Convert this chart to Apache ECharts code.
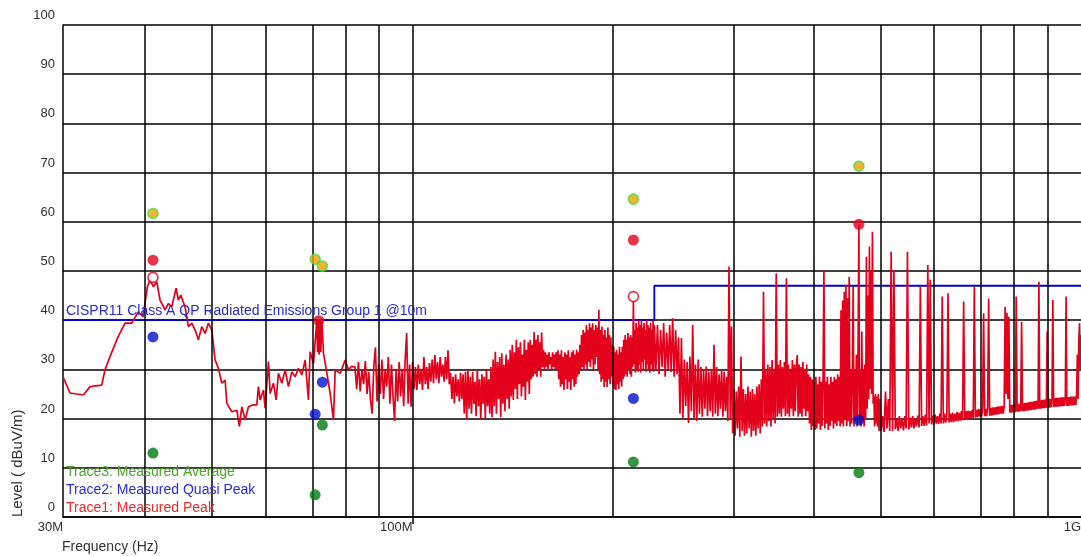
<!DOCTYPE html>
<html>
<head>
<meta charset="utf-8">
<script src="https://cdn.jsdelivr.net/npm/echarts@6/dist/echarts.min.js"></script>
<style>
html,body{margin:0;padding:0;background:#fff;}
#chart{width:1081px;height:556px;}
</style>
</head>
<body>
<div id="chart"></div>
<script>
// ---------- DATA (frequency in MHz, level in dBuV/m) ----------
const xTickMHz = [30, 100, 1000];
const xTickLabels = ['30M', '100M', '1G'];
const gridFreqMHz = [40, 50, 60, 70, 80, 90, 100, 200, 300, 400, 500, 600, 700, 800, 900];

// CISPR11 Class A QP limit (step)
const limitFreqMHz = [30, 230, 230, 1000];
const limitLevel = [40, 40, 47, 47];

// Trace1: measured peak sweep
const traceLow = [
[30.0,28.5],[30.73,25.2],[32.18,24.8],[32.93,26.5],[34.28,26.8],[34.67,29.9],[35.27,32.6],[36.26,36.6],[37.15,39.4],[38.01,39.4],
[38.89,41.7],[39.52,40.7],[40.12,46.8],[40.49,48.2],[40.95,46.8],[41.44,47.8],[41.91,44.1],[42.64,42.1],[43.13,43.4],[43.63,42.7],
[44.29,46.5],[44.64,44.1],[45.01,45.1],[45.68,42.7],[46.21,38.7],[46.75,39.4],[47.29,38.0],[47.83,36.0],[48.39,38.7],[48.94,37.3],
[49.50,39.4],[50.09,38.0],[50.66,31.9],[51.24,30.2],[51.84,27.2],[52.44,27.8],[52.75,23.1],[53.66,21.4],[54.59,21.7],[55.08,18.4],
[55.54,22.4],[56.18,19.7],[56.82,22.4],[57.81,22.8],[58.49,22.8],[58.81,26.5],[59.16,23.8],[59.84,25.8],[60.19,22.1],[60.88,31.6],
[61.23,25.1],[61.93,27.2],[62.51,23.8],[63.01,29.2],[63.75,27.2],[64.48,29.9],[65.22,26.5],[65.99,29.5],[66.74,28.5],[67.51,30.2],
[68.30,28.9],[69.08,31.9],[69.87,23.8],[70.28,33.6],[71.09,31.2],[71.92,40.0],[72.1,33.5],[72.25,40.0],[72.5,33.0],[72.7,40.0],
[72.9,33.5],[73.18,40.0],[73.58,33.3],[74.45,29.2],[75.30,25.1],[76.16,19.7],[76.61,29.9],[77.94,29.2],[79.30,31.9],[80.21,29.9],[81.0,30.6]
];
const traceMid = [
[82,30.5],[82.5,26.0],[83,31.5],[83.5,25.5],[84,30.0],[84.5,27.0],[85,31.7],[85.5,25.0],[86,29.5],[86.5,24.0],
[87,21.0],[87.5,30.5],[88,34.5],[88.5,23.5],[89,31.0],[89.5,25.0],[90,32.0],[90.5,24.0],[91,30.0],[91.5,26.5],
[92,32.5],[92.5,23.0],[93,31.0],[93.5,24.5],[94,19.5],[94.5,30.0],[95,23.5],[95.5,31.5],[96,24.5],[96.5,30.0],
[97,22.5],[97.5,32.0],[98,37.4],[98.5,23.0],[99,31.0],[99.5,22.4],[100,31.5],[100.5,26.0],[101,30.5],[101.5,25.8],
[102,31.0],[102.5,27.0],[103,30.0],[103.5,25.8],[104,32.5],[104.5,27.0],[105,30.5],[105.5,26.0],[106,31.3],[106.5,27.5],
[107,32.0],[107.5,27.2],[108,32.9],[108.5,28.0],[109,31.5],[109.5,27.2],[110,32.5],[110.5,28.5],[111,31.0],[111.5,27.5],
[112,32.5],[112.5,28.0],[113,33.9],[113.5,27.0],[114,29.3],[114.5,24.0],[115,28.5],[115.5,23.1],[116,29.0],[116.5,24.5],
[117,28.0],[117.5,23.5],[118,29.3],[118.5,24.0],[119,29.0],[119.5,21.0],[120,29.5],[120.5,19.7],[121,29.9],[121.5,22.0],
[122,28.5],[122.5,21.0],[123,29.5],[123.5,23.0],[124,27.5],[124.5,20.5],[125,29.9],[125.5,22.5],[126,28.0],[126.5,19.7],
[127,29.0],[127.5,23.0],[128,28.5],[128.5,20.0],[129,29.9],[129.5,22.5],[130,28.0],[130.5,21.0],[131,30.5],[131.5,20.3],
[132,32.0],[132.5,22.5],[133,33.6],[133.5,21.0],[134,31.5],[134.5,24.0],[135,32.5],[135.5,20.3],[136,33.3],[136.5,23.0],
[137,31.0],[137.5,21.5],[138,33.0],[138.5,24.0],[139,32.0],[139.5,22.0],[140,34.0],[140.5,24.5],[141,35.0],[141.5,23.8],
[142,33.5],[142.5,26.0],[143,36.0],[143.5,24.0],[144,34.5],[144.5,27.0],[145,35.5],[145.5,24.5],[146,33.0],[146.5,26.5],
[147,36.0],[147.5,23.8],[148,34.0],[148.5,27.5],[149,35.5],[149.5,25.0],[150,36.0],[150.5,28.0],[151,35.0],[151.5,28.5],
[152,37.6],[152.5,29.0],[153,36.0],[153.5,28.5],[154,37.0],[154.5,30.0],[155,35.5],[155.5,28.5],[156,37.5],[156.5,30.5],
[157,34.0],[157.5,29.9],[158,33.5],[158.5,30.5],[159,33.0],[159.5,29.9],[160,33.5],[160.5,31.0],[161,32.5],[161.5,30.0],
[162,33.5],[162.5,30.5],[163,33.0],[163.5,29.9],[164,33.5],[164.5,30.0],[165,33.9],[165.5,28.0],[166,33.0],[166.5,26.5],
[167,33.9],[167.5,27.0],[168,32.5],[168.5,25.8],[169,33.5],[169.5,28.0],[170,33.0],[170.5,26.0],[171,33.9],[171.5,27.5],
[172,32.5],[172.5,25.8],[173,33.5],[173.5,28.0],[174,33.9],[174.5,26.5],[175,33.0],[175.5,27.0],[176,34.0],[176.5,28.5],
[177,33.5],[177.5,29.0],[178,35.0],[178.5,30.0],[179,37.0],[179.5,30.5],[180,38.0],[180.5,29.9],[181,37.5],[181.5,31.0],
[182,39.0],[182.5,30.0],[183,38.0],[183.5,31.5],[184,39.4],[184.5,30.5],[185,38.5],[185.5,32.0],[186,39.4],[186.5,30.0],
[187,38.0],[187.5,31.0],[188,39.0],[188.5,32.5],[189,38.5],[189.5,30.0],[190,42.1],[190.5,29.0],[191,38.0],[191.5,27.5],
[192,38.7],[192.5,28.0],[193,37.0],[193.5,26.4],[194,38.0],[194.5,27.5],[195,36.5],[195.5,26.4],[196,38.5],[196.5,28.0],
[197,37.0],[197.5,27.0],[198,36.5],[198.5,28.5],[199,35.0],[199.5,27.0],[200,34.6],[200.5,26.0],[201,33.5],[201.5,25.8],
[202,34.0],[202.5,27.0],[203,33.0],[203.5,26.0],[204,34.6],[204.5,27.5],[205,33.5],[205.5,26.5],[206,34.6],[206.5,28.0],
[207,36.0],[207.5,28.5],[208,37.0],[208.5,29.0],[209,36.0],[209.5,28.5],[210,37.4],[210.5,30.0],[211,36.5],[211.5,29.0],
[212,37.0],[212.5,28.5],[213,36.5],[213.5,30.5],[214,44.0],[214.5,31.0],[215,38.0],[215.5,29.3],[216,39.5],[216.5,30.0],
[217,38.5],[217.5,29.5],[218,40.0],[218.5,31.0],[219,39.0],[219.5,29.3],[220,40.0],[220.5,31.5],[221,38.5],[221.5,30.0],
[222,39.5],[222.5,32.0],[223,38.0],[223.5,29.5],[224,40.0],[224.5,31.0],[225,39.0],[225.5,30.0],[226,38.5],[226.5,29.3],
[227,39.5],[227.5,31.0],[228,38.0],[228.5,30.0],[229,40.0],[229.5,29.5],[230,39.0]
];
const traceHigh = [
[231.25,30.0],[232.5,39.0],[233.75,29.0],[235,38.0],[236.25,30.5],[237.5,39.4],[238.75,28.5],[240,37.5],
[241.25,30.0],[242.5,39.0],[243.75,29.5],[245,40.4],[246.25,28.5],[247.5,38.0],[248.75,29.0],[250,36.5],
[251.25,21.0],[252.5,36.4],[253.75,20.0],[255,32.0],[256.25,22.5],[257.5,31.5],[258.75,19.1],[260,32.6],
[261.25,21.5],[262.5,39.0],[263.75,20.0],[265,31.0],[266.25,19.5],[267.5,32.0],[268.75,21.0],[270,30.5],
[271.25,20.4],[272.5,30.0],[273.75,22.0],[275,30.6],[276.25,20.5],[277.5,29.5],[278.75,21.5],[280,30.0],
[281.25,20.4],[282.5,35.0],[283.75,21.0],[285,30.5],[286.25,20.5],[287.5,29.0],[288.75,22.0],[290,30.0],
[291.25,20.4],[292.5,29.5],[293.75,21.5],[295,28.5],[296.25,19.5],[297.5,50.9],[298.75,20.0],[300,38.7],
[301.25,17.0],[302.5,26.0],[303.75,16.5],[305,25.5],[306.25,18.0],[307.5,26.5],[308.75,16.3],[310,32.6],
[311.25,17.5],[312.5,26.0],[313.75,16.5],[315,25.0],[316.25,17.0],[317.5,26.5],[318.75,18.0],[320,25.5],
[321.25,16.3],[322.5,26.0],[323.75,17.5],[325,25.0],[326.25,16.5],[327.5,26.5],[328.75,18.0],[330,27.0],
[331.25,17.0],[332.5,28.0],[333.75,18.4],[335,45.8],[336.25,19.0],[337.5,30.0],[338.75,18.4],[340,31.0],
[341.25,19.5],[342.5,30.5],[343.75,18.4],[345,31.9],[346.25,20.0],[347.5,30.0],[348.75,19.0],[350,49.5],
[351.25,20.4],[352.5,31.0],[353.75,21.0],[355,31.9],[356.25,20.4],[357.5,30.5],[358.75,22.0],[360,31.5],
[361.25,20.5],[362.5,48.5],[363.75,21.0],[365,31.0],[366.25,20.4],[367.5,30.0],[368.75,22.0],[370,31.9],
[371.25,20.5],[372.5,31.0],[373.75,21.5],[375,30.5],[376.25,32.9],[377.5,20.4],[378.75,31.0],[380,21.0],
[381.25,30.5],[382.5,20.4],[383.75,31.5],[385,22.0],[386.25,30.0],[387.5,20.5],[388.75,31.0],[390,21.5],
[391.25,29.0],[392.5,19.0],[393.75,28.5],[395,17.7],[396.25,28.0],[397.5,18.5],[398.75,27.5],[400,17.7],
[401.25,28.5],[402.5,18.0],[403.75,27.0],[405,19.0],[406.25,28.5],[407.5,17.7],[408.75,27.5],[410,18.5],
[411.25,28.0],[412.5,50.2],[413.75,18.0],[415,27.5],[416.25,19.0],[417.5,28.5],[418.75,17.7],[420,27.0],
[421.25,18.5],[422.5,28.5],[423.75,19.5],[425,27.5],[426.25,18.0],[427.5,28.5],[428.75,19.0],[430,28.0],
[431.25,18.5],[432.5,29.0],[433.75,19.5],[435,28.5],[436.25,18.4],[437.5,42.0],[438.75,19.0],[440,44.0],
[441.25,18.4],[442.5,45.8],[443.75,20.0],[445,47.2],[446.25,18.5],[447.5,44.5],[448.75,19.5],[450,48.8],
[451.25,18.4],[452.5,30.0],[453.75,19.0],[455,29.5],[456.25,46.8],[457.5,18.4],[458.75,30.0],[460,19.5],
[461.25,33.0],[462.5,18.4],[463.75,30.5],[465.3,59.5],[466.25,19.0],[467.5,30.0],[468.75,18.4],[470,37.7],
[471.25,19.5],[472.5,30.0],[473.75,18.4],[475,31.0],[476.25,20.0],[477.5,52.9],[478.75,22.0],[480,45.0],
[481.25,24.0],[482.5,55.0],[483.75,26.0],[485,50.0],[486.25,25.0],[487.5,58.0],[488.75,23.0],[490,24.5],
[491.25,18.4],[492.5,25.0],[493.75,19.0],[495,24.5],[496.25,18.4],[497.5,25.0],[498.75,17.5],[500,24.0]
];
const traceTop = [
[502.5,17.5],[505,20.5],[507.5,17.3],[510,25.5],[512.5,18.0],[515,24.0],[517.5,17.5],[520,53.9],
[522.5,17.5],[525,50.2],[527.5,17.8],[530,20.0],[532.5,17.5],[535,20.5],[537.5,18.0],[540,19.8],
[542.5,17.6],[545,20.5],[547.5,18.0],[550,53.9],[552.5,17.8],[555,20.2],[557.5,18.2],[560,20.5],
[562.5,18.0],[565,20.0],[567.5,18.4],[570,20.6],[572.5,18.2],[575,46.8],[577.5,18.5],[580,20.5],
[582.5,18.5],[585,20.8],[587.5,18.6],[590,51.2],[592.5,19.0],[595,48.2],[597.5,18.8],[600,20.6],
[602.5,18.8],[605,20.8],[607.5,19.0],[610,20.5],[612.5,18.9],[615,21.0],[617.5,19.0],[620,44.8],
[622.5,19.0],[625,21.0],[627.5,19.2],[630,20.8],[632.5,45.5],[635,19.2],[637.5,21.0],[640,19.3],
[642.5,21.2],[645,19.3],[647.5,21.0],[650,19.5],[652.5,21.3],[655,19.5],[657.5,21.2],[660,19.6],
[662.5,21.5],[665,19.7],[667.5,43.8],[670,19.8],[672.5,21.5],[675,19.8],[677.5,21.6],[680,20.0],
[682.5,21.5],[685,20.0],[687.5,21.8],[690,20.1],[692.5,46.8],[695,20.2],[697.5,21.8],[700,20.3],
[702.5,22.0],[705,20.4],[707.5,21.8],[710,20.4],[712.5,22.0],[715,41.4],[717.5,20.5],[720,22.0],
[722.5,20.5],[725,22.2],[727.5,44.4],[730,20.6],[732.5,22.2],[735,20.6],[737.5,22.3],[740,20.7],
[742.5,22.3],[745,20.8],[747.5,22.4],[750,20.8],[752.5,22.5],[755,20.9],[757.5,22.5],[760,21.0],
[762.5,22.6],[765,21.0],[767.5,22.6],[770,42.7],[772.5,25.0],[775,41.5],[777.5,24.0],[780,40.7],
[782.5,21.2],[785,22.8],[787.5,21.2],[790,22.8],[792.5,21.3],[795,22.9],[797.5,21.3],[800,44.8],
[802.5,21.4],[805,23.0],[807.5,21.4],[810,23.0],[812.5,21.5],[815,39.7],[817.5,21.5],[820,23.1],
[822.5,21.5],[825,23.2],[827.5,21.6],[830,23.2],[832.5,21.6],[835,23.3],[837.5,21.7],[840,23.4],
[842.5,21.7],[845,23.4],[847.5,21.8],[850,23.5],[852.5,21.8],[855,23.6],[857.5,21.9],[860,23.6],
[862.5,22.0],[865,47.8],[867.5,22.0],[870,23.7],[872.5,22.0],[875,23.8],[877.5,22.1],[880,23.8],
[882.5,22.1],[885,23.9],[887.5,22.2],[890,37.7],[892.5,22.2],[895,24.0],[897.5,22.2],[900,24.0],
[902.5,22.3],[905,24.1],[907.5,44.1],[910,22.3],[912.5,24.1],[915,22.4],[917.5,24.2],[920,22.4],
[922.5,24.2],[925,22.4],[927.5,24.2],[930,22.5],[932.5,24.3],[935,22.5],[937.5,24.3],[940,22.5],
[942.5,24.3],[945,22.6],[947.5,24.4],[950,44.8],[952.5,22.6],[955,24.4],[957.5,22.6],[960,24.4],
[962.5,22.7],[965,24.5],[967.5,22.7],[970,24.5],[972.5,22.7],[975,24.5],[977.5,22.8],[980,24.5],
[982.5,22.8],[985,25.0],[987.5,33.0],[990,24.0],[992.5,36.0],[995,39.4],[997.5,30.0],[1000,37.0]
];

// Markers
const mkPeakFreq = [40.9, 71.5, 73.3, 214, 465.3];
const mkPeakLevel = [61.7, 52.4, 51.0, 64.6, 71.3];
const mkRedFreq = [40.9, 72.4, 214, 465.3];
const mkRedLevel = [52.2, 39.9, 56.3, 59.5];
const mkHollowFreq = [40.9, 214];
const mkHollowLevel = [48.7, 44.8];
const mkQpFreq = [40.9, 71.5, 73.3, 214, 465.3];
const mkQpLevel = [36.6, 20.9, 27.4, 24.1, 19.7];
const mkAvgFreq = [40.9, 71.5, 73.3, 214, 465.3];
const mkAvgLevel = [13.0, 4.5, 18.7, 11.2, 9.0];

// ---------- BUILD ----------
const toX = f => Math.log10(f);
const pairs = (fs, ls) => fs.map((f, i) => [toX(f), ls[i]]);
const peakData = [].concat(traceLow, traceMid, traceHigh, traceTop).map(p => [toX(p[0]), p[1]]);
const FONT = '"Liberation Sans", Arial, sans-serif';

const chart = echarts.init(document.getElementById('chart'), null, {renderer: 'canvas'});
chart.setOption({
  animation: false,
  backgroundColor: '#ffffff',
  grid: {left: 63, right: 0, top: 25, bottom: 39, outerBoundsMode: 'none', containLabel: false},
  xAxis: {
    type: 'value',
    min: toX(30), max: toX(1000),
    axisLine: {show: true, onZero: false, lineStyle: {color: '#000', width: 1.5}},
    splitLine: {show: false},
    axisTick: {show: true, customValues: [toX(100)], length: 7, lineStyle: {color: '#000', width: 1.5}},
    axisLabel: {
      customValues: xTickMHz.map(toX),
      formatter: v => {
        const i = xTickMHz.findIndex(f => Math.abs(toX(f) - v) < 1e-6);
        return i >= 0 ? xTickLabels[i] : '';
      },
      align: 'right', margin: 4, color: '#333', fontSize: 13, fontFamily: FONT
    }
  },
  yAxis: {
    type: 'value', min: 0, max: 100, interval: 10,
    axisLine: {show: true, lineStyle: {color: '#000', width: 1.5}},
    axisTick: {show: false},
    splitLine: {show: true, lineStyle: {color: '#000', width: 1.5}},
    axisLabel: {color: '#333', fontSize: 13, fontFamily: FONT, margin: 8,
      verticalAlign: 'bottom', padding: [0, 0, 3, 0]}
  },
  graphic: [
    {type: 'text', x: 18, y: 517, rotation: Math.PI / 2,
      style: {text: 'Level ( dBuV/m)', fill: '#333', font: '15px ' + FONT, align: 'left', verticalAlign: 'middle'}},
    {type: 'text', x: 62, y: 547,
      style: {text: 'Frequency (Hz)', fill: '#333', font: '14px ' + FONT, align: 'left', verticalAlign: 'middle'}},
    {type: 'text', x: 66, y: 311, z: 10,
      style: {text: 'CISPR11 Class A QP Radiated Emissions Group 1 @10m', fill: '#2a2ad0', font: '14px ' + FONT, align: 'left', verticalAlign: 'middle'}},
    {type: 'text', x: 66, y: 472, z: 10,
      style: {text: 'Trace3: Measured Average', fill: '#4aa52a', font: '14px ' + FONT, align: 'left', verticalAlign: 'middle'}},
    {type: 'text', x: 66, y: 490, z: 10,
      style: {text: 'Trace2: Measured Quasi Peak', fill: '#2b2be0', font: '14px ' + FONT, align: 'left', verticalAlign: 'middle'}},
    {type: 'text', x: 66, y: 508, z: 10,
      style: {text: 'Trace1: Measured Peak', fill: '#f02a2a', font: '14px ' + FONT, align: 'left', verticalAlign: 'middle'}}
  ],
  series: [
    {
      name: 'limit', type: 'line', z: 2, silent: true,
      data: pairs(limitFreqMHz, limitLevel),
      showSymbol: false, symbol: 'none',
      lineStyle: {color: '#0000cc', width: 1.8},
      markLine: {
        silent: true, symbol: 'none', label: {show: false},
        lineStyle: {color: '#000', width: 1.5, type: 'solid'},
        data: gridFreqMHz.map(f => ({xAxis: toX(f)}))
      }
    },
    {
      name: 'Trace1', type: 'line', z: 3, silent: true,
      data: peakData, showSymbol: false, symbol: 'none', sampling: null,
      lineStyle: {color: '#e3001b', width: 1.7}
    },
    {type: 'scatter', z: 5, silent: true, symbol: 'circle', symbolSize: 11,
      data: pairs(mkAvgFreq, mkAvgLevel), itemStyle: {color: '#007a10'}},
    {type: 'scatter', z: 5, silent: true, symbol: 'circle', symbolSize: 11,
      data: pairs(mkQpFreq, mkQpLevel), itemStyle: {color: '#0010c8'}},
    {type: 'scatter', z: 5, silent: true, symbol: 'circle', symbolSize: 10,
      data: pairs(mkHollowFreq, mkHollowLevel), itemStyle: {color: '#ffffff', borderColor: '#e3001b', borderWidth: 1.6}},
    {type: 'scatter', z: 5, silent: true, symbol: 'circle', symbolSize: 11,
      data: pairs(mkRedFreq, mkRedLevel), itemStyle: {color: '#e3001b'}},
    {type: 'scatter', z: 6, silent: true, symbol: 'circle', symbolSize: 10,
      data: pairs(mkPeakFreq, mkPeakLevel), itemStyle: {color: '#f2a100', borderColor: '#3de03d', borderWidth: 1.6}}
  ]
});
</script>
</body>
</html>
